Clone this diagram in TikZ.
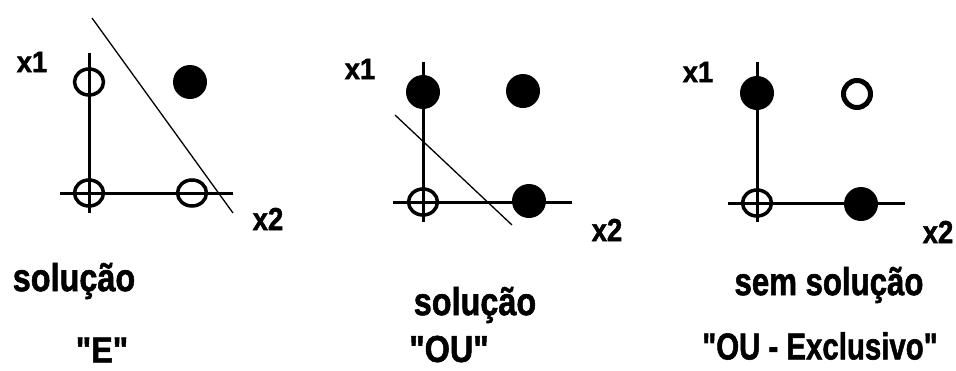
\documentclass[tikz,border=0pt]{standalone}
\usepackage{fontspec}
\newfontfamily\labfont[FakeBold=1.6]{Liberation Sans}
\tikzset{
  axis/.style={line width=3pt},
  sep/.style={line width=1.3pt},
  filledpt/.style={circle, fill=black, minimum size=34pt, inner sep=0pt},
  openpt/.style={ellipse, draw=black, line width=3.5pt, minimum width=29pt, minimum height=26pt, inner sep=0pt},
  openthick/.style={circle, draw=black, line width=5pt, minimum size=27pt, inner sep=0pt},
  axlab/.style={inner sep=0pt, font=\labfont\bfseries\fontsize{22}{24}\selectfont},
  caption/.style={inner sep=0pt, font=\labfont\bfseries\fontsize{30}{32}\selectfont}
}
\usetikzlibrary{shapes.geometric}
\begin{document}
\begin{tikzpicture}[x=1pt,y=-1pt]
\useasboundingbox[fill=white] (0,0) rectangle (956,370);
% ---------- panel 1 ----------
\coordinate (a1t) at (89,53);
\coordinate (a1b) at (89,213);
\coordinate (a1l) at (60,193);
\coordinate (a1r) at (233,193);
\draw[axis] (a1t) -- (a1b);
\draw[axis] (a1l) -- (a1r);
\node[openpt] (p1a) at (89,82) {};
\node[openpt] (p1o) at (89,193) {};
\node[openpt] (p1b) at (192,193) {};
\node[filledpt] (p1c) at (190,82) {};
\coordinate (s1a) at (92,18);
\coordinate (s1b) at (233,213);
\draw[sep] (s1a) -- (s1b);
\node[axlab] (x11) at (32,62) {\scalebox{1.25}[1.35]{x1}};
\node[axlab] (x21) at (268,219) {\scalebox{1.25}[1.45]{x2}};
% ---------- panel 2 ----------
\coordinate (a2t) at (423,62);
\coordinate (a2b) at (423,222);
\coordinate (a2l) at (393,202);
\coordinate (a2r) at (572,202);
\draw[axis] (a2t) -- (a2b);
\draw[axis] (a2l) -- (a2r);
\node[filledpt] (p2a) at (423,92) {};
\node[filledpt] (p2c) at (523,91) {};
\node[openpt] (p2o) at (423,202) {};
\node[filledpt] (p2b) at (529,201) {};
\coordinate (s2a) at (395,115);
\coordinate (s2b) at (512,225);
\draw[sep] (s2a) -- (s2b);
\node[axlab] (x12) at (360,69) {\scalebox{1.25}[1.35]{x1}};
\node[axlab] (x22) at (607,230) {\scalebox{1.25}[1.45]{x2}};
% ---------- panel 3 ----------
\coordinate (a3t) at (757,62);
\coordinate (a3b) at (757,222);
\coordinate (a3l) at (728,203);
\coordinate (a3r) at (905,203);
\draw[axis] (a3t) -- (a3b);
\draw[axis] (a3l) -- (a3r);
\node[filledpt] (p3a) at (757,93) {};
\node[openthick] (p3c) at (857,94) {};
\node[openpt] (p3o) at (757,203) {};
\node[filledpt] (p3b) at (861,204) {};
\node[axlab] (x13) at (698,72) {\scalebox{1.25}[1.35]{x1}};
\node[axlab] (x23) at (938,232) {\scalebox{1.25}[1.45]{x2}};
% ---------- captions ----------
\node[caption] (c1a) at (74,281) {\scalebox{1.08}[1.3]{solução}};
\node[caption] (c1b) at (102,350) {\scalebox{1.08}[1.2]{"E"}};
\node[caption] (c2a) at (475,305) {\scalebox{1.08}[1.3]{solução}};
\node[caption] (c2b) at (449,349) {\scalebox{1.08}[1.25]{"OU"}};
\node[caption] (c3a) at (829,285) {\scalebox{1.04}[1.3]{sem solução}};
\node[caption] (c3b) at (820,346) {\scalebox{0.98}[1.25]{"OU - Exclusivo"}};
\end{tikzpicture}
\end{document}
